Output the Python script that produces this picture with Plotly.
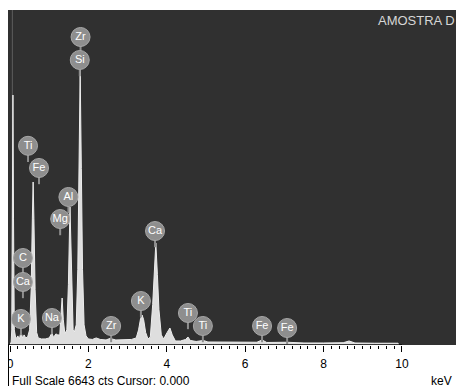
import plotly.graph_objects as go

# ---- data ----
full_scale = 6643
cursor = 0.000
energy_kev = [0.00, 0.03, 0.045, 0.06, 0.075, 0.09, 0.11, 0.15, 0.20, 0.24, 0.28, 0.32, 0.36, 0.40,
              0.45, 0.50, 0.54, 0.57, 0.59, 0.61, 0.64, 0.68, 0.72, 0.80, 0.90, 1.00, 1.07, 1.11,
              1.17, 1.22, 1.27, 1.30, 1.33, 1.36, 1.40, 1.45, 1.49, 1.53, 1.57, 1.61, 1.64, 1.69,
              1.73, 1.76, 1.79, 1.82, 1.85, 1.89, 1.94, 2.00, 2.10, 2.20, 2.30, 2.45, 2.55, 2.70,
              2.90, 3.10, 3.22, 3.28, 3.33, 3.37, 3.41, 3.46, 3.52, 3.58, 3.64, 3.68, 3.72, 3.76,
              3.80, 3.86, 3.92, 4.01, 4.08, 4.14, 4.22, 4.35, 4.48, 4.54, 4.60, 4.75, 4.93, 5.05,
              5.50, 6.00, 6.30, 6.43, 6.55, 7.06, 7.50, 8.00, 8.50, 8.65, 8.80, 9.30, 9.90, 9.92]
counts = [0, 60, 300, 3000, 4957, 2500, 300, 120, 180, 120, 260, 140, 200, 140,
          160, 300, 1100, 2500, 3232, 2500, 1100, 250, 140, 120, 120, 140, 240, 150,
          220, 200, 200, 600, 932, 500, 220, 300, 1200, 2737, 1200, 300, 250, 400,
          1500, 3500, 5453, 3500, 1500, 400, 180, 120, 110, 140, 110, 100, 130, 100,
          100, 110, 140, 300, 520, 595, 500, 250, 120, 160, 800, 1400, 2023, 1400,
          700, 200, 120, 250, 337, 200, 80, 80, 110, 159, 90, 70, 90, 60,
          60, 55, 55, 100, 50, 55, 40, 40, 45, 80, 40, 35, 35, 0]

label_text = ["Zr", "Si", "Ti", "Fe", "Al", "Mg", "C", "Ca", "K", "Na", "Zr", "K", "Ca", "Ti", "Ti", "Fe", "Fe"]
label_kev = [1.80, 1.78, 0.46, 0.74, 1.49, 1.28, 0.33, 0.33, 0.28, 1.07, 2.58, 3.34, 3.70, 4.54, 4.92, 6.43, 7.07]
label_cts = [6108, 5652, 3950, 3510, 2935, 2498, 1725, 1250, 516, 535, 377, 872, 2260, 635, 377, 377, 337]

x_tick_vals = [0, 1, 2, 3, 4, 5, 6, 7, 8, 9, 10]
x_tick_text = ["0", "", "2", "", "4", "", "6", "", "8", "", "10"]

# ---- layout geometry ----
W, H = 456, 389
px_per_cnt = 335 / full_scale
stem_off = 12 / px_per_cnt

fig = go.Figure()
fig.add_trace(go.Scatter(
    x=energy_kev, y=counts, mode="lines", fill="tozeroy",
    line=dict(color="#ededed", width=1), fillcolor="#dedede", hoverinfo="skip"))
fig.add_trace(go.Scatter(
    x=label_kev, y=[c - stem_off for c in label_cts], mode="markers",
    marker=dict(symbol="line-ns", size=6, line=dict(color="#8e8e8e", width=2)),
    hoverinfo="skip"))
fig.add_trace(go.Scatter(
    x=label_kev, y=label_cts, mode="markers+text", text=label_text,
    textposition="middle center",
    textfont=dict(color="white", size=11, family="Arial, Liberation Sans"),
    marker=dict(size=19, color="#8e8e8e", line=dict(color="#a8a8a8", width=1)),
    hoverinfo="skip"))

fig.update_layout(
    width=W, height=H, margin=dict(l=0, r=0, t=0, b=0, pad=0),
    paper_bgcolor="white", plot_bgcolor="#303030", showlegend=False,
    font=dict(family="Arial, Liberation Sans", size=12, color="black"),
    xaxis=dict(domain=[8 / W, 1], range=[-0.051, 11.378], showgrid=False, zeroline=False,
               showline=False, tickmode="array", tickvals=x_tick_vals, ticktext=x_tick_text,
               ticks="outside", ticklen=6, tickcolor="black", tickwidth=1,
               tickfont=dict(size=12, color="black"), ticklabelstandoff=2,
               minor=dict(tickmode="array", tickvals=[i / 5 for i in range(1, 50)],
                          ticks="outside", ticklen=3, tickcolor="black", tickwidth=1)),
    yaxis=dict(domain=[(H - 345) / H, (H - 10) / H], range=[0, full_scale], showgrid=False,
               zeroline=False, showline=False, showticklabels=False, ticks=""),
    shapes=[
        dict(type="line", xref="x", yref="y", x0=cursor + 0.06, x1=cursor + 0.06, y0=0, y1=full_scale,
             line=dict(color="#5e5e5e", width=1), layer="below"),
        dict(type="line", xref="x", yref="y", x0=-0.05, x1=10.0, y0=0, y1=0,
             line=dict(color="black", width=1.5)),
        dict(type="rect", xref="paper", yref="paper", x0=0, x1=8.5 / W, y0=0, y1=(H - 345) / H,
             fillcolor="white", line=dict(width=0)),
        dict(type="line", xref="paper", yref="paper", x0=8.5 / W, x1=8.5 / W, y0=3 / H, y1=(H - 345) / H,
             line=dict(color="black", width=1)),
    ],
    annotations=[
        dict(text="AMOSTRA D", xref="paper", yref="paper", x=376 / W, y=(H - 21) / H,
             xanchor="left", yanchor="middle", showarrow=False,
             font=dict(size=13, color="#d6d6d6")),
        dict(text=f"Full Scale {full_scale} cts Cursor: {cursor:.3f}", xref="paper", yref="paper",
             x=9.5 / W, y=(H - 381) / H, xanchor="left", yanchor="middle", showarrow=False,
             font=dict(size=12, color="black")),
        dict(text="keV", xref="paper", yref="paper", x=454 / W, y=(H - 381) / H,
             xanchor="right", yanchor="middle", showarrow=False, font=dict(size=12, color="black")),
    ],
)

fig.write_html("out.html")
